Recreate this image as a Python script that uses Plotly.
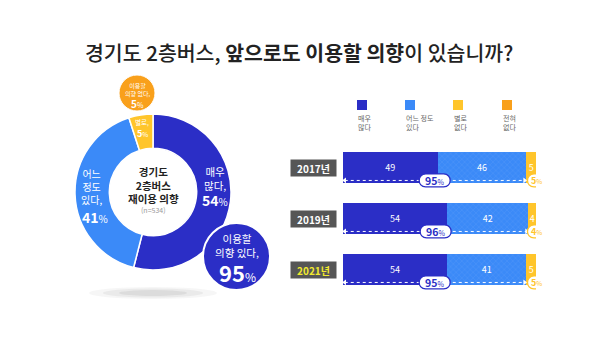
import plotly.graph_objects as go

# ---------------- data ----------------
categories = ['매우 많다', '어느 정도 있다', '별로 없다', '전혀 없다']
legend_labels = ['매우<br>많다', '어느 정도<br>있다', '별로<br>없다', '전혀<br>없다']
pie_values = [54, 41, 5]            # 2021 donut (매우 많다, 어느 정도 있다, 별로 없다)
years = ['2017년', '2019년', '2021년']
very_much = [49, 54, 54]
somewhat = [46, 42, 41]
not_much = [5, 4, 5]
willing_total = [95, 96, 95]
unwilling_total = [5, 4, 5]
n_label = '(n=534)'

DARK = '#2B2EC6'
LIGHT = '#3B8AF8'
YELLOW = '#FFC52B'
ORANGE = '#F9A01B'
colors = [DARK, LIGHT, YELLOW, ORANGE]
FONT = 'Noto Sans CJK KR'

W, H = 600, 352
def px(x, y):
    return x / W, 1 - y / H

fig = go.Figure()

# ---------------- donut ----------------
cx, cy, R = 153, 192, 78
fig.add_trace(go.Pie(
    values=pie_values, labels=categories[:3], sort=False, direction='clockwise',
    rotation=0, hole=0.56, textinfo='none', hoverinfo='label+value',
    marker=dict(colors=colors[:3], line=dict(color='white', width=1.5)),
    domain=dict(x=[(cx - R) / W, (cx + R) / W], y=[1 - (cy + R) / H, 1 - (cy - R) / H]),
    showlegend=False,
))

# ---------------- stacked bars ----------------
ypos = list(range(len(years)))
series = [very_much, somewhat, not_much]
for k, vals in enumerate(series):
    pattern = dict(shape='x', fgcolor='#7DB3FC', fgopacity=0.6, size=4, solidity=0.12) if k == 1 else None
    fig.add_trace(go.Bar(
        x=vals, y=ypos, orientation='h', width=0.61,
        marker=dict(color=colors[k], line=dict(width=0), pattern=pattern),
        text=[str(v) for v in vals], textposition='inside', insidetextanchor='middle',
        constraintext='none', cliponaxis=False,
        textangle=0, textfont=dict(color='white', size=9, family=FONT),
        name=categories[k], showlegend=False, hoverinfo='x+name',
    ))

# dotted arrows for "willing" totals
for i, tot in enumerate(willing_total):
    fig.add_trace(go.Scatter(
        x=[0.9, tot - 0.9], y=[i + 0.25, i + 0.25], mode='lines+markers',
        line=dict(color='white', width=1, dash='dot'),
        marker=dict(symbol=['triangle-left', 'triangle-right'], size=5, color='white'),
        showlegend=False, hoverinfo='skip',
    ))

fig.update_layout(
    barmode='stack',
    xaxis=dict(domain=[343 / W, 536 / W], range=[0, 100], visible=False, fixedrange=True),
    yaxis=dict(domain=[1 - 295.2 / H, 1 - 142.2 / H], range=[2.5, -0.5], visible=False),
    width=W, height=H, margin=dict(l=0, r=0, t=0, b=0),
    paper_bgcolor='white', plot_bgcolor='rgba(0,0,0,0)',
    font=dict(family=FONT),
)

shapes = []
ann = []

def pill_path(w, h):
    a, r = w / 2, h / 2
    c = 1.333 * r
    return (f"M {-a + r},{-r} L {a - r},{-r} C {a - r + c},{-r} {a - r + c},{r} {a - r},{r} "
            f"L {-a + r},{r} C {-a + r - c},{r} {-a + r - c},{-r} {-a + r},{-r} Z")

for i in ypos:
    # willing pill
    shapes.append(dict(type='path', xref='x', yref='y', xsizemode='pixel', ysizemode='pixel',
                       xanchor=willing_total[i] / 2, yanchor=i + 0.25, path=pill_path(31, 13),
                       fillcolor='white', line=dict(color=DARK, width=1.3), layer='above'))
    ann.append(dict(x=willing_total[i] / 2, y=i + 0.25, xref='x', yref='y', showarrow=False,
                    xanchor='center', yanchor='middle', borderpad=0,
                    text=f"<b>{willing_total[i]}</b><span style='font-size:7px'>%</span>",
                    font=dict(size=10.5, color=DARK, family=FONT)))
    # unwilling pill
    xr = willing_total[i] + unwilling_total[i]
    shapes.append(dict(type='path', xref='x', yref='y', xsizemode='pixel', ysizemode='pixel',
                       xanchor=xr, yanchor=i + 0.25, path=pill_path(17, 13),
                       fillcolor='white', line=dict(color=YELLOW, width=1.3), layer='above'))
    ann.append(dict(x=xr, y=i + 0.25, xref='x', yref='y', showarrow=False,
                    xanchor='center', yanchor='middle', borderpad=0,
                    text=f"<b>{unwilling_total[i]}</b><span style='font-size:6.5px'>%</span>",
                    font=dict(size=9, color=YELLOW, family=FONT)))
    # year box
    ann.append(dict(x=313.5 / W, y=i, xref='paper', yref='y', showarrow=False,
                    xanchor='center', yanchor='middle',
                    text=f"<b>{years[i]}</b>", width=43, height=14, bgcolor='#565656',
                    font=dict(size=10, color='#F2EA2E' if i == len(years) - 1 else 'white', family=FONT)))

# legend
leg_x = [357, 405, 453, 502]
for k in range(4):
    x0, y0 = px(leg_x[k], 100)
    x1, y1 = px(leg_x[k] + 10, 110)
    shapes.append(dict(type='rect', xref='paper', yref='paper', x0=x0, x1=x1, y0=y1, y1=y0,
                       fillcolor=colors[k], line=dict(width=0)))
    lx, ly = px(leg_x[k], 112)
    ann.append(dict(x=lx, y=ly, xref='paper', yref='paper', xanchor='left', yanchor='top',
                    align='left', showarrow=False, text=legend_labels[k], borderpad=0,
                    font=dict(size=7, color='#666666', family=FONT)))

# shadow under donut
for rx, ry, op in [(64, 6, 0.05), (50, 4.5, 0.07), (34, 3, 0.09)]:
    x0, y0 = px(cx - rx, 293 - ry)
    x1, y1 = px(cx + rx, 293 + ry)
    shapes.append(dict(type='circle', xref='paper', yref='paper', x0=x0, x1=x1, y0=y1, y1=y0,
                       fillcolor='#555555', opacity=op, line=dict(width=0), layer='below'))

# big bubble: willing 95%
bx, by, br = 236.5, 256.5, 33.5
x0, y0 = px(bx - br, by - br)
x1, y1 = px(bx + br, by + br)
shapes.append(dict(type='circle', xref='paper', yref='paper', x0=x0, x1=x1, y0=y1, y1=y0,
                   fillcolor=DARK, line=dict(color='white', width=2), layer='above'))
# small bubble: unwilling 5%
sx, sy, sr = 137, 93, 18
x0, y0 = px(sx - sr, sy - sr)
x1, y1 = px(sx + sr, sy + sr)
shapes.append(dict(type='circle', xref='paper', yref='paper', x0=x0, x1=x1, y0=y1, y1=y0,
                   fillcolor=ORANGE, line=dict(color='white', width=1), layer='above'))

def txt(x, y, text, size, color='white', weight=None, **kw):
    ax, ay = px(x, y)
    f = dict(size=size, color=color, family=FONT)
    if weight is not None:
        f['weight'] = weight
    ann.append(dict(x=ax, y=ay, xref='paper', yref='paper', showarrow=False, text=text,
                    xanchor='center', yanchor='middle', borderpad=0, font=f, **kw))

# title
txt(299, 52, "경기도 2층버스, <b>앞으로도 이용할 의향</b>이 있습니까?", 20.5, '#222222', weight=500)

# donut centre
txt(cx, 185, "<b>경기도<br>2층버스<br>재이용 의향</b>", 10.5, '#222222')
txt(cx, 210, n_label, 7, '#999999')

# segment labels
txt(215, 178, "매우<br>많다,", 10.5)
txt(215, 200, f"<b>{pie_values[0]}</b><span style='font-size:10px'>%</span>", 14)
txt(91, 186.5, "어느<br>정도<br>있다,", 10)
txt(95, 216.5, f"<b>{pie_values[1]}</b><span style='font-size:10px'>%</span>", 14)
txt(142, 122, "별로,", 6.5)
txt(142, 133, f"<b>{pie_values[2]}</b><span style='font-size:6.5px'>%</span>", 9)

# small bubble text
txt(sx, 89.5, "이용할<br>의향 없다,", 6)
txt(sx, 104, f"<b>{unwilling_total[-1]}</b><span style='font-size:7px'>%</span>", 10)

# big bubble text
txt(bx, 245.5, "이용할<br>의향 있다,", 10.5)
txt(bx + 1, 272, f"<b>{willing_total[-1]}</b><span style='font-size:12px'>%</span>", 22)

fig.update_layout(shapes=shapes, annotations=ann)
fig.write_html("out.html")
